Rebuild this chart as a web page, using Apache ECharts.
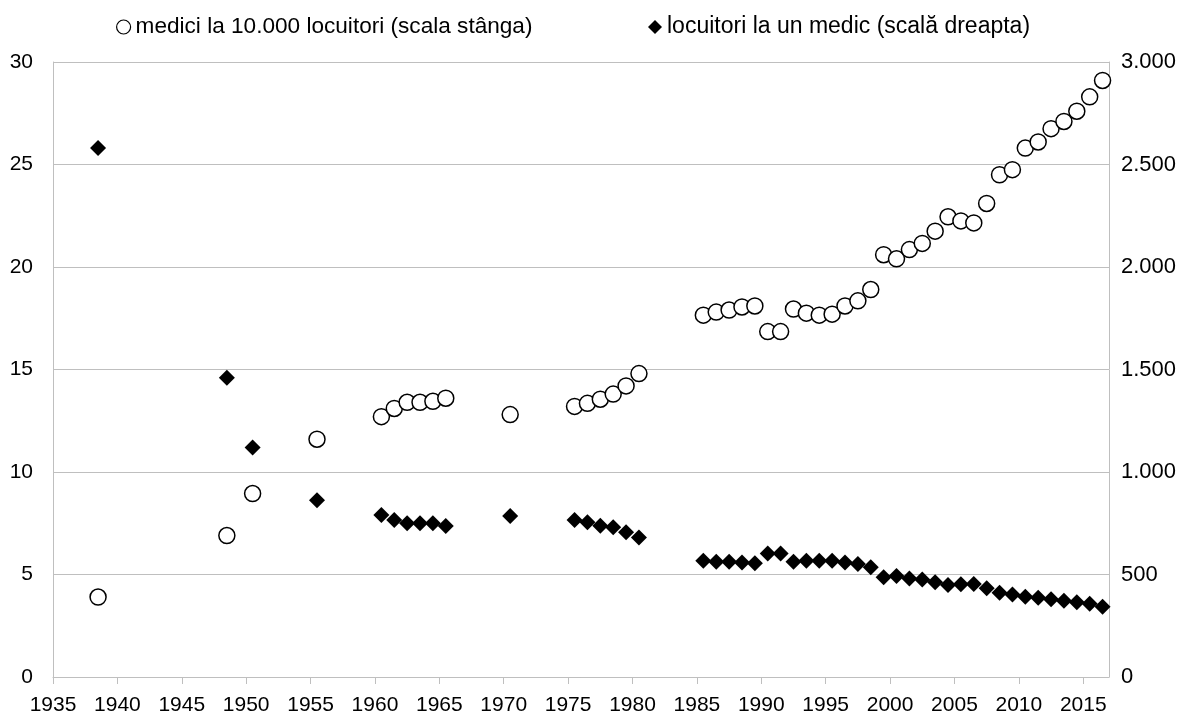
<!DOCTYPE html>
<html>
<head>
<meta charset="utf-8">
<script src="https://cdn.jsdelivr.net/npm/echarts@6/dist/echarts.min.js"></script>
<style>
html,body{margin:0;padding:0;background:#fff;}
#chart{width:1188px;height:720px;}
</style>
</head>
<body>
<div id="chart"></div>
<script>
// Years of observation
const years = [1938,1948,1950,1955,1960,1961,1962,1963,1964,1965,1970,1975,1976,1977,1978,1979,1980,
  1985,1986,1987,1988,1989,1990,1991,1992,1993,1994,1995,1996,1997,1998,1999,2000,2001,2002,2003,2004,
  2005,2006,2007,2008,2009,2010,2011,2012,2013,2014,2015,2016];
// medici la 10.000 locuitori (left axis)
const mediciLa10000 = [3.9,6.9,8.95,11.6,12.7,13.1,13.4,13.4,13.45,13.6,12.8,13.2,13.35,13.55,13.8,14.2,14.8,
  17.65,17.8,17.9,18.05,18.1,16.85,16.85,17.95,17.75,17.65,17.7,18.1,18.35,18.9,20.6,20.4,20.85,21.15,21.75,22.45,
  22.25,22.15,23.1,24.5,24.75,25.8,26.1,26.75,27.1,27.6,28.3,29.1];
// locuitori la un medic (right axis)
const locuitoriLaMedic = [2580,1460,1120,862,790,766,750,750,750,737,785,766,755,738,730,706,681,
  567,562,562,558,555,603,603,562,567,567,567,559,551,535,486,493,481,476,462,449,
  452,454,433,411,403,392,387,379,372,365,357,343];
// Axis ticks
const xTicks = [1935,1940,1945,1950,1955,1960,1965,1970,1975,1980,1985,1990,1995,2000,2005,2010,2015];
const leftTicks = [0,5,10,15,20,25,30];
const rightTicks = [0,500,1000,1500,2000,2500,3000];

const seriesNames = ['medici la 10.000 locuitori (scala stânga)', 'locuitori la un medic (scală dreapta)'];

// points are plotted at mid-year
const circleData = years.map((y,i)=>[y+0.5, mediciLa10000[i]]);
const diamondData = years.map((y,i)=>[y+0.5, locuitoriLaMedic[i]]);

const fmtThousands = v => String(v).replace(/\B(?=(\d{3})+(?!\d))/g, '.');

const chart = echarts.init(document.getElementById('chart'));
const gridColor = '#bfbfbf';
const axisFont = "'Liberation Sans', Arial, sans-serif";
chart.setOption({
  animation: false,
  backgroundColor: '#fff',
  grid: {left: 53, right: 79, top: 62, bottom: 43, containLabel: false},
  legend: [
    {
      data: [seriesNames[0]], left: 111, top: 10, itemWidth: 14, itemHeight: 14,
      icon: 'circle',
      itemStyle: {color: '#fff', borderColor: '#000', borderWidth: 1.2},
      textStyle: {fontFamily: axisFont, fontSize: 22.6, color: '#000', lineHeight: 24}
    },
    {
      data: [seriesNames[1]], left: 643, top: 10, itemWidth: 14, itemHeight: 14,
      icon: 'diamond',
      itemStyle: {color: '#000', borderWidth: 0},
      textStyle: {fontFamily: axisFont, fontSize: 23, color: '#000', lineHeight: 24}
    }
  ],
  xAxis: {
    type: 'value', min: 1935, max: 2017, interval: 5,
    axisLine: {show: true, lineStyle: {color: gridColor, width: 1}},
    axisTick: {show: true, length: 7, lineStyle: {color: gridColor}, customValues: xTicks},
    axisLabel: {
      customValues: xTicks, margin: 18, color: '#000', fontSize: 21, fontFamily: axisFont,
      formatter: v => String(v)
    },
    splitLine: {show: false}
  },
  yAxis: [
    {
      type: 'value', min: 0, max: 30, interval: 5, position: 'left',
      axisLine: {show: true, lineStyle: {color: gridColor}},
      axisTick: {show: false},
      axisLabel: {color: '#000', fontSize: 21, fontFamily: axisFont, margin: 20,
        customValues: leftTicks},
      splitLine: {show: true, lineStyle: {color: gridColor, width: 1}}
    },
    {
      type: 'value', min: 0, max: 3000, interval: 500, position: 'right',
      axisLine: {show: true, lineStyle: {color: gridColor}},
      axisTick: {show: false},
      axisLabel: {color: '#000', fontSize: 22, fontFamily: axisFont, margin: 12,
        customValues: rightTicks, formatter: v => fmtThousands(v)},
      splitLine: {show: false}
    }
  ],
  series: [
    {
      name: seriesNames[0], type: 'scatter', yAxisIndex: 0, data: circleData,
      symbol: 'circle', symbolSize: 16,
      itemStyle: {color: '#fff', borderColor: '#000', borderWidth: 1.5, opacity: 1},
      emphasis: {disabled: true}
    },
    {
      name: seriesNames[1], type: 'scatter', yAxisIndex: 1, data: diamondData,
      symbol: 'diamond', symbolSize: 16,
      itemStyle: {color: '#000', opacity: 1},
      emphasis: {disabled: true}
    }
  ]
});
</script>
</body>
</html>
